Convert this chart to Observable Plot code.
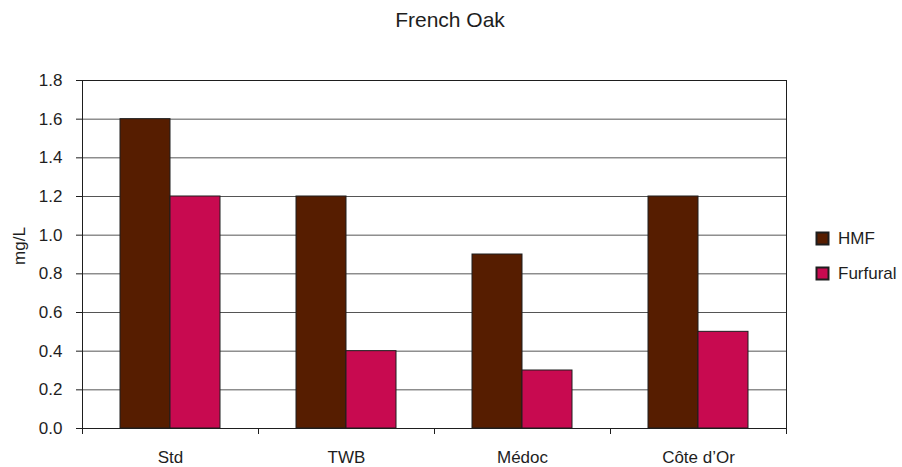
<!DOCTYPE html>
<html>
<head>
<meta charset="utf-8">
<script src="https://cdn.jsdelivr.net/npm/d3@7"></script>
<script src="https://cdn.jsdelivr.net/npm/@observablehq/plot@0.6"></script>
<style>
  html, body { margin: 0; padding: 0; background: #fff; }
</style>
</head>
<body>
<div id="chart"></div>
<script>
// HMF and furfural levels (mg/L) by French oak barrel type
const categories = ["Std", "TWB", "Médoc", "Côte d’Or"];
const series = ["HMF", "Furfural"];
const hmf = [1.6, 1.2, 0.9, 1.2];
const furfural = [1.2, 0.4, 0.3, 0.5];
const yTicks = [0, 0.2, 0.4, 0.6, 0.8, 1.0, 1.2, 1.4, 1.6, 1.8];
const colors = ["#561d00", "#c80a50"];
const title = "French Oak";
const yLabel = "mg/L";

const rows = [];
categories.forEach((c, i) => {
  rows.push({category: c, series: "HMF", value: hmf[i]});
  rows.push({category: c, series: "Furfural", value: furfural[i]});
});

const ink = "#1e1e1e";
const font = "'Liberation Sans', Arial, sans-serif";

const fig = Plot.plot({
  width: 902,
  height: 467,
  marginLeft: 82,
  marginRight: 116,
  marginTop: 80,
  marginBottom: 39,
  style: {fontFamily: font, fontSize: "17px", color: ink, background: "#fff", overflow: "visible"},
  fx: {domain: categories, padding: 0, label: null},
  x: {domain: series, paddingInner: 0, paddingOuter: 0.76, axis: null},
  y: {domain: [0, 1.8], label: null},
  color: {domain: series, range: colors},
  marks: [
    Plot.gridY(yTicks, {stroke: "#555", strokeOpacity: 1, strokeWidth: 1}),
    Plot.barY(rows, {fx: "category", x: "series", y: "value", fill: "series", stroke: ink, strokeWidth: 1}),
    Plot.axisY(yTicks, {tickSize: 6, tickPadding: 14, tickFormat: d3.format(".1f"), stroke: ink, label: null}),
    Plot.axisFx({anchor: "bottom", tickSize: 0, tickPadding: 22, label: null})
  ]
});

document.getElementById("chart").appendChild(fig);

const svg = d3.select(fig);
const fxScale = fig.scale("fx");
const yScale = fig.scale("y");
const bw = fxScale.bandwidth;
const plotLeft = fxScale.apply(categories[0]);
const plotRight = fxScale.apply(categories[categories.length - 1]) + bw;
const plotTop = yScale.apply(1.8);
const plotBottom = yScale.apply(0);

// plot-area border
svg.append("rect")
  .attr("x", plotLeft + 0.5).attr("y", plotTop + 0.5)
  .attr("width", plotRight - plotLeft).attr("height", plotBottom - plotTop)
  .attr("fill", "none").attr("stroke", ink).attr("stroke-width", 1);

// category boundary ticks below the x axis
const bounds = categories.map(c => fxScale.apply(c)).concat([plotRight]);
svg.append("g").selectAll("line").data(bounds).join("line")
  .attr("x1", d => d + 0.5).attr("x2", d => d + 0.5)
  .attr("y1", plotBottom).attr("y2", plotBottom + 6)
  .attr("stroke", ink);

// title
svg.append("text")
  .attr("x", 450).attr("y", 27)
  .attr("text-anchor", "middle")
  .attr("font-size", 21)
  .attr("fill", ink)
  .text(title);

// y-axis label
svg.append("text")
  .attr("transform", `translate(25, 246) rotate(-90)`)
  .attr("text-anchor", "middle")
  .attr("font-size", 17)
  .attr("fill", ink)
  .text(yLabel);

// legend
const legend = svg.append("g").attr("text-anchor", "start");
series.forEach((s, i) => {
  const yy = 232 + i * 35;
  legend.append("rect")
    .attr("x", 816.5).attr("y", yy + 0.5)
    .attr("width", 12).attr("height", 12)
    .attr("fill", fig.scale("color").apply(s))
    .attr("stroke", ink).attr("stroke-width", 2);
  legend.append("text")
    .attr("x", 838).attr("y", yy + 12)
    .attr("font-size", 17)
    .attr("fill", ink)
    .text(s);
});
</script>
</body>
</html>
